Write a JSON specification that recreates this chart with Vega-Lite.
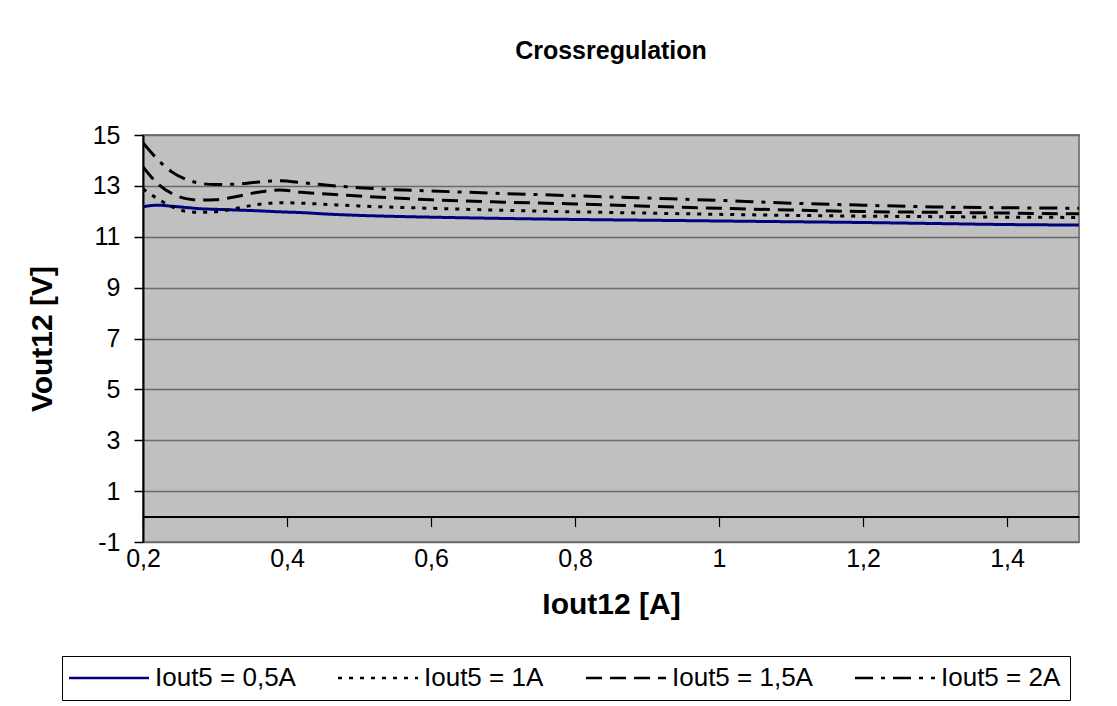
{
  "$schema": "https://vega.github.io/schema/vega-lite/v6.json",
  "width": 936,
  "height": 407,
  "autosize": {"type": "none"},
  "padding": {"left": 143, "top": 135, "right": 38, "bottom": 164},
  "background": "white",
  "title": {"text": "Crossregulation", "fontSize": 25, "font": "Liberation Sans", "fontWeight": "bold", "color": "black", "offset": 59, "anchor": "middle"},
  "config": {
    "font": "Liberation Sans",
    "view": {"fill": "#c0c0c0", "stroke": "#808080", "strokeWidth": 2}
  },
  "data": {"values": [
    {"I12": 0.2, "s": "Iout5 = 0,5A", "V12": 12.18},
    {"I12": 0.22, "s": "Iout5 = 0,5A", "V12": 12.24},
    {"I12": 0.24, "s": "Iout5 = 0,5A", "V12": 12.2},
    {"I12": 0.26, "s": "Iout5 = 0,5A", "V12": 12.15},
    {"I12": 0.28, "s": "Iout5 = 0,5A", "V12": 12.1},
    {"I12": 0.3, "s": "Iout5 = 0,5A", "V12": 12.08},
    {"I12": 0.33, "s": "Iout5 = 0,5A", "V12": 12.05},
    {"I12": 0.36, "s": "Iout5 = 0,5A", "V12": 12.02},
    {"I12": 0.39, "s": "Iout5 = 0,5A", "V12": 11.98},
    {"I12": 0.42, "s": "Iout5 = 0,5A", "V12": 11.95},
    {"I12": 0.45, "s": "Iout5 = 0,5A", "V12": 11.9},
    {"I12": 0.5, "s": "Iout5 = 0,5A", "V12": 11.84},
    {"I12": 0.55, "s": "Iout5 = 0,5A", "V12": 11.8},
    {"I12": 0.6, "s": "Iout5 = 0,5A", "V12": 11.77},
    {"I12": 0.7, "s": "Iout5 = 0,5A", "V12": 11.72},
    {"I12": 0.8, "s": "Iout5 = 0,5A", "V12": 11.68},
    {"I12": 0.9, "s": "Iout5 = 0,5A", "V12": 11.65},
    {"I12": 1.0, "s": "Iout5 = 0,5A", "V12": 11.62},
    {"I12": 1.1, "s": "Iout5 = 0,5A", "V12": 11.59},
    {"I12": 1.2, "s": "Iout5 = 0,5A", "V12": 11.56},
    {"I12": 1.3, "s": "Iout5 = 0,5A", "V12": 11.52},
    {"I12": 1.4, "s": "Iout5 = 0,5A", "V12": 11.48},
    {"I12": 1.5, "s": "Iout5 = 0,5A", "V12": 11.46},

    {"I12": 0.2, "s": "Iout5 = 1A", "V12": 12.88},
    {"I12": 0.22, "s": "Iout5 = 1A", "V12": 12.5},
    {"I12": 0.24, "s": "Iout5 = 1A", "V12": 12.18},
    {"I12": 0.26, "s": "Iout5 = 1A", "V12": 12.0},
    {"I12": 0.28, "s": "Iout5 = 1A", "V12": 11.96},
    {"I12": 0.3, "s": "Iout5 = 1A", "V12": 11.98},
    {"I12": 0.33, "s": "Iout5 = 1A", "V12": 12.12},
    {"I12": 0.36, "s": "Iout5 = 1A", "V12": 12.27},
    {"I12": 0.39, "s": "Iout5 = 1A", "V12": 12.34},
    {"I12": 0.42, "s": "Iout5 = 1A", "V12": 12.32},
    {"I12": 0.45, "s": "Iout5 = 1A", "V12": 12.28},
    {"I12": 0.5, "s": "Iout5 = 1A", "V12": 12.21},
    {"I12": 0.55, "s": "Iout5 = 1A", "V12": 12.16},
    {"I12": 0.6, "s": "Iout5 = 1A", "V12": 12.12},
    {"I12": 0.7, "s": "Iout5 = 1A", "V12": 12.04},
    {"I12": 0.8, "s": "Iout5 = 1A", "V12": 11.98},
    {"I12": 0.9, "s": "Iout5 = 1A", "V12": 11.93},
    {"I12": 1.0, "s": "Iout5 = 1A", "V12": 11.88},
    {"I12": 1.1, "s": "Iout5 = 1A", "V12": 11.84},
    {"I12": 1.2, "s": "Iout5 = 1A", "V12": 11.81},
    {"I12": 1.3, "s": "Iout5 = 1A", "V12": 11.79},
    {"I12": 1.4, "s": "Iout5 = 1A", "V12": 11.77},
    {"I12": 1.5, "s": "Iout5 = 1A", "V12": 11.76},

    {"I12": 0.2, "s": "Iout5 = 1,5A", "V12": 13.75},
    {"I12": 0.22, "s": "Iout5 = 1,5A", "V12": 13.1},
    {"I12": 0.24, "s": "Iout5 = 1,5A", "V12": 12.7},
    {"I12": 0.26, "s": "Iout5 = 1,5A", "V12": 12.5},
    {"I12": 0.28, "s": "Iout5 = 1,5A", "V12": 12.44},
    {"I12": 0.3, "s": "Iout5 = 1,5A", "V12": 12.45},
    {"I12": 0.33, "s": "Iout5 = 1,5A", "V12": 12.58},
    {"I12": 0.36, "s": "Iout5 = 1,5A", "V12": 12.75},
    {"I12": 0.39, "s": "Iout5 = 1,5A", "V12": 12.84},
    {"I12": 0.42, "s": "Iout5 = 1,5A", "V12": 12.75},
    {"I12": 0.45, "s": "Iout5 = 1,5A", "V12": 12.69},
    {"I12": 0.5, "s": "Iout5 = 1,5A", "V12": 12.6},
    {"I12": 0.55, "s": "Iout5 = 1,5A", "V12": 12.52},
    {"I12": 0.6, "s": "Iout5 = 1,5A", "V12": 12.45},
    {"I12": 0.7, "s": "Iout5 = 1,5A", "V12": 12.36},
    {"I12": 0.8, "s": "Iout5 = 1,5A", "V12": 12.29},
    {"I12": 0.9, "s": "Iout5 = 1,5A", "V12": 12.2},
    {"I12": 1.0, "s": "Iout5 = 1,5A", "V12": 12.12},
    {"I12": 1.1, "s": "Iout5 = 1,5A", "V12": 12.05},
    {"I12": 1.2, "s": "Iout5 = 1,5A", "V12": 11.99},
    {"I12": 1.3, "s": "Iout5 = 1,5A", "V12": 11.96},
    {"I12": 1.4, "s": "Iout5 = 1,5A", "V12": 11.93},
    {"I12": 1.5, "s": "Iout5 = 1,5A", "V12": 11.9},

    {"I12": 0.2, "s": "Iout5 = 2A", "V12": 14.7},
    {"I12": 0.22, "s": "Iout5 = 2A", "V12": 14.05},
    {"I12": 0.24, "s": "Iout5 = 2A", "V12": 13.55},
    {"I12": 0.26, "s": "Iout5 = 2A", "V12": 13.25},
    {"I12": 0.28, "s": "Iout5 = 2A", "V12": 13.1},
    {"I12": 0.3, "s": "Iout5 = 2A", "V12": 13.05},
    {"I12": 0.33, "s": "Iout5 = 2A", "V12": 13.07},
    {"I12": 0.36, "s": "Iout5 = 2A", "V12": 13.15},
    {"I12": 0.39, "s": "Iout5 = 2A", "V12": 13.2},
    {"I12": 0.42, "s": "Iout5 = 2A", "V12": 13.13},
    {"I12": 0.45, "s": "Iout5 = 2A", "V12": 13.04},
    {"I12": 0.5, "s": "Iout5 = 2A", "V12": 12.93},
    {"I12": 0.55, "s": "Iout5 = 2A", "V12": 12.85},
    {"I12": 0.6, "s": "Iout5 = 2A", "V12": 12.8},
    {"I12": 0.7, "s": "Iout5 = 2A", "V12": 12.7},
    {"I12": 0.8, "s": "Iout5 = 2A", "V12": 12.61},
    {"I12": 0.9, "s": "Iout5 = 2A", "V12": 12.52},
    {"I12": 1.0, "s": "Iout5 = 2A", "V12": 12.43},
    {"I12": 1.1, "s": "Iout5 = 2A", "V12": 12.32},
    {"I12": 1.2, "s": "Iout5 = 2A", "V12": 12.24},
    {"I12": 1.3, "s": "Iout5 = 2A", "V12": 12.17},
    {"I12": 1.4, "s": "Iout5 = 2A", "V12": 12.14},
    {"I12": 1.5, "s": "Iout5 = 2A", "V12": 12.12}
  ]},
  "layer": [
    {
      "mark": {"type": "rule", "color": "black", "strokeWidth": 1.2},
      "encoding": {"y": {"datum": 0, "type": "quantitative"}}
    },
    {
      "mark": {"type": "line", "interpolate": "monotone", "strokeWidth": 3, "clip": true},
      "encoding": {
        "x": {
          "field": "I12", "type": "quantitative",
          "scale": {"domain": [0.2, 1.5], "nice": false, "zero": false},
          "axis": {
            "values": [0.2, 0.4, 0.6, 0.8, 1.0, 1.2, 1.4],
            "labelExpr": "replace(format(datum.value, '.1~f'), '.', ',')",
            "title": "Iout12 [A]",
            "titleFontSize": 30, "titleFontWeight": "bold", "titleColor": "black", "titlePadding": 18,
            "labelFontSize": 25, "labelColor": "black", "labelPadding": 20,
            "offset": -25.4, "domainColor": "black", "domainWidth": 1.2,
            "tickColor": "black", "tickSize": 10, "tickWidth": 1.2,
            "grid": false, "labelFlush": false, "labelOverlap": false
          }
        },
        "y": {
          "field": "V12", "type": "quantitative",
          "scale": {"domain": [-1, 15], "nice": false, "zero": false},
          "axis": {
            "values": [-1, 1, 3, 5, 7, 9, 11, 13, 15],
            "labelExpr": "datum.value < 0 ? '-' + abs(datum.value) : '' + datum.value",
            "title": "Vout12 [V]",
            "titleFontSize": 30, "titleFontWeight": "bold", "titleColor": "black", "titlePadding": 35,
            "labelFontSize": 25, "labelColor": "black", "labelPadding": 14,
            "domainColor": "black", "domainWidth": 2,
            "tickColor": "black", "tickSize": 9, "tickWidth": 1.5,
            "grid": true, "gridColor": "#6a6a6a", "gridWidth": 1.5, "gridOpacity": 1,
            "labelFlush": false, "labelOverlap": false
          }
        },
        "color": {
          "field": "s", "type": "nominal",
          "scale": {"domain": ["Iout5 = 0,5A", "Iout5 = 1A", "Iout5 = 1,5A", "Iout5 = 2A"], "range": ["#000080", "black", "black", "black"]},
          "legend": {
            "title": null, "orient": "none", "legendX": -81, "legendY": 521,
            "direction": "horizontal", "columns": 4,
            "strokeColor": "black", "fillColor": "white", "padding": 9,
            "symbolType": "M-3,0H13", "symbolSize": 100, "symbolStrokeWidth": 2.5,
            "labelFontSize": 26, "labelColor": "black", "labelLimit": 0, "labelOffset": 58,
            "columnPadding": 37
          }
        },
        "strokeDash": {
          "field": "s", "type": "nominal",
          "scale": {"domain": ["Iout5 = 0,5A", "Iout5 = 1A", "Iout5 = 1,5A", "Iout5 = 2A"], "range": [[1, 0], [4, 7], [16, 8], [18, 8, 4, 8]]},
          "legend": null
        }
      }
    }
  ]
}
